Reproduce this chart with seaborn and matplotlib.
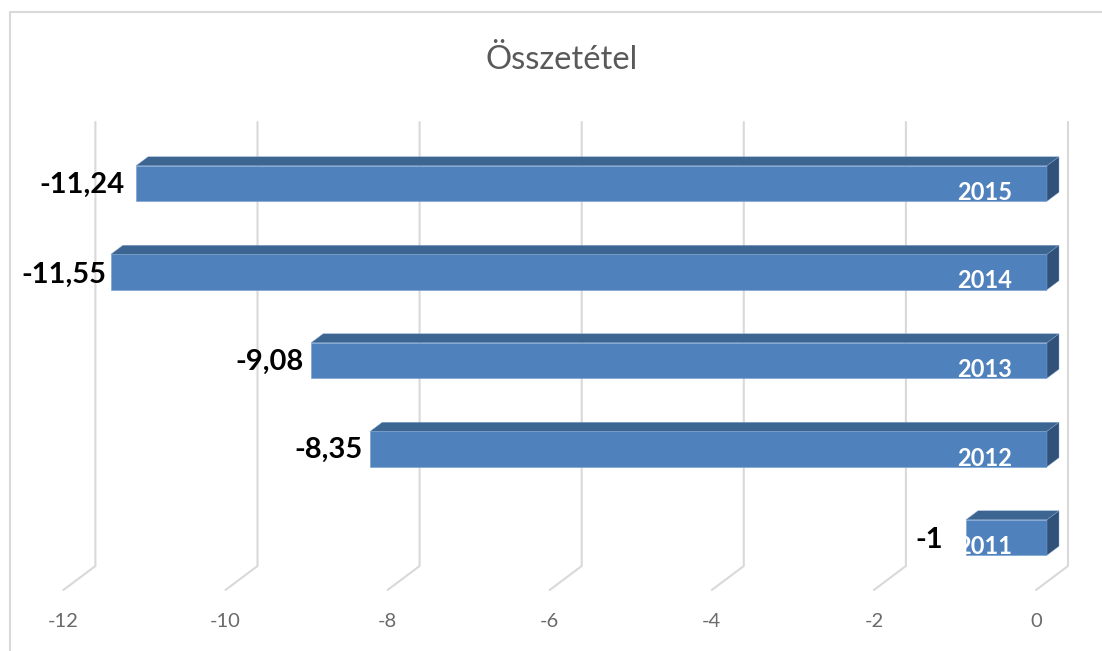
import matplotlib.pyplot as plt
import pandas as pd
import seaborn as sns
from matplotlib.lines import Line2D
from matplotlib.patches import Polygon
from matplotlib.transforms import IdentityTransform, ScaledTranslation

sns.set_style("white")
plt.rcParams["font.family"] = ["Lato", "DejaVu Sans"]
plt.rcParams["axes.unicode_minus"] = False

years = ["2015", "2014", "2013", "2012", "2011"]
values = [-11.24, -11.55, -9.08, -8.35, -1]
value_labels = ["-11,24", "-11,55", "-9,08", "-8,35", "-1"]
x_ticks = [-12, -10, -8, -6, -4, -2, 0]

W, H = 1102, 651
DPI = 100
# plot box in reference pixels (the front face of the bars)
LEFT, RIGHT = 74.4, 1047
TOP, BOTTOM = 139.25, 581.75
DEPTH_X, DEPTH_Y = 12, 9

# label placement, gap to bar end and vertical nudge in pixels
label_gaps = [11, 4, 7, 8, 23]
label_nudges = [1, 3, 1, 1, 3]

fig = plt.figure(figsize=(W / DPI, H / DPI), dpi=DPI, facecolor="white")
ax = fig.add_axes([LEFT / W, 1 - BOTTOM / H, (RIGHT - LEFT) / W, (BOTTOM - TOP) / H])

df = pd.DataFrame({"year": years, "value": values})
sns.barplot(
    data=df,
    x="value",
    y="year",
    order=years,
    orient="h",
    color="#4f81bd",
    saturation=1,
    width=0.4,
    edgecolor="#7fa3cf",
    linewidth=0.5,
    zorder=3,
    ax=ax,
)
ax.set_xlim(-12, 0)
ax.set_ylim(4.5, -0.5)
ax.set_xlabel("")
ax.set_ylabel("")
ax.set_yticks([])
ax.set_xticks(x_ticks)
ax.tick_params(axis="x", length=0, pad=22.5, labelsize=14.5, labelcolor="#6a6a6a")
sns.despine(ax=ax, left=True, bottom=True)

# tick labels sit on the front edge of the floor
tick_shift = ScaledTranslation(-11 / DPI, 0, fig.dpi_scale_trans)
for label in ax.get_xticklabels():
    label.set_transform(label.get_transform() + tick_shift)

# back wall gridlines and floor lines
box_h = BOTTOM - TOP
grid_shift = ScaledTranslation(21 / DPI, 0, fig.dpi_scale_trans)
for tick in x_ticks:
    ax.plot(
        [tick, tick, tick - 32 / (RIGHT - LEFT) * 12],
        [(BOTTOM - 122) / box_h, (BOTTOM - 566) / box_h, (BOTTOM - 590) / box_h],
        transform=ax.get_xaxis_transform() + grid_shift,
        color="#d9d9d9",
        linewidth=1.5,
        clip_on=False,
        zorder=1,
    )

# 3d look: top and end faces of each bar
for patch in ax.patches[: len(years)]:
    x0, y0, w, h = patch.get_bbox().bounds
    (px0, py0), (px1, py1) = ax.transData.transform([(x0, y0), (x0 + w, y0 + h)])
    px_l, px_r = min(px0, px1), max(px0, px1)
    py_b, py_t = min(py0, py1), max(py0, py1)
    top = [
        (px_l, py_t),
        (px_r, py_t),
        (px_r + DEPTH_X, py_t + DEPTH_Y),
        (px_l + DEPTH_X, py_t + DEPTH_Y),
    ]
    side = [
        (px_r, py_b),
        (px_r + DEPTH_X, py_b + DEPTH_Y),
        (px_r + DEPTH_X, py_t + DEPTH_Y),
        (px_r, py_t),
    ]
    ax.add_patch(
        Polygon(top, transform=IdentityTransform(), facecolor="#3d6591",
                edgecolor="#7fa3cf", linewidth=0.3, clip_on=False, zorder=3)
    )
    ax.add_patch(
        Polygon(side, transform=IdentityTransform(), facecolor="#315179",
                edgecolor="#7fa3cf", linewidth=0.3, clip_on=False, zorder=3)
    )

for i, (val, text) in enumerate(zip(values, value_labels)):
    ax.annotate(
        text,
        xy=(val, i),
        xytext=(-label_gaps[i], -label_nudges[i]),
        textcoords="offset pixels",
        ha="right",
        va="center",
        fontsize=21,
        fontweight="bold",
        color="black",
        zorder=5,
        annotation_clip=False,
    )
    ax.annotate(
        years[i],
        xy=(0, i),
        xytext=(-62, -9),
        textcoords="offset pixels",
        ha="center",
        va="center",
        fontsize=17,
        fontweight="bold",
        color="white",
        zorder=5,
    )

fig.text(562 / W, 1 - 60 / H, "Összetétel", ha="center", va="center",
         fontsize=23.6, color="#595959")

# chart frame, only left and top show in the crop
fig.add_artist(Line2D([10 / W, 10 / W, 1], [0, 1 - 12 / H, 1 - 12 / H],
                      color="#d9d9d9", linewidth=1.5))

plt.savefig("out.png")
plt.close()
